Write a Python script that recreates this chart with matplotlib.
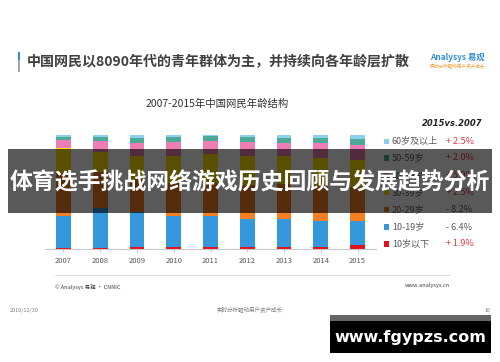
import matplotlib
matplotlib.use("Agg")
import matplotlib.pyplot as plt
from matplotlib.patches import Rectangle
import numpy as np

plt.rcParams['font.family'] = ['Noto Sans CJK SC', 'DejaVu Sans']

# ---------------- data ----------------
years = ['2007', '2008', '2009', '2010', '2011', '2012', '2013', '2014', '2015']
age_groups = ['10岁以下', '10-19岁', '20-29岁', '30-39岁', '40-49岁', '50-59岁', '60岁及以上']
under10 = [1.0, 0.6, 1.1, 1.1, 1.7, 1.7, 1.9, 1.7, 2.9]
age10_19 = [27.8, 35.2, 31.5, 27.3, 26.7, 24.0, 24.1, 22.8, 21.4]
age20_29 = [38.1, 31.5, 28.6, 29.8, 29.8, 30.4, 31.2, 31.5, 29.9]
age30_39 = [21.3, 17.6, 20.1, 23.4, 25.2, 25.3, 23.9, 23.8, 23.8]
age40_49 = [7.2, 10.0, 11.5, 12.6, 11.4, 12.4, 12.1, 12.9, 13.1]
age50_59 = [3.2, 3.6, 4.6, 3.9, 4.5, 4.4, 4.4, 4.7, 5.2]
age60 = [1.4, 1.5, 2.3, 1.9, 0.7, 1.9, 2.4, 2.4, 3.9]
changes = ['+ 1.9%', '- 6.4%', '- 8.2%', '+ 2.5%', '+ 5.9%', '+ 2.0%', '+ 2.5%']

series = [under10, age10_19, age20_29, age30_39, age40_49, age50_59, age60]
colors = ['#E3111B', '#3597DC', '#F57F22', '#FFE200', '#EF7DB5', '#4DAA96', '#8CCFEE']

W, H = 500, 362
fig = plt.figure(figsize=(W / 100, H / 100), dpi=100)


def fx(x):
    return x / W


def fy(y):
    return 1 - y / H


# ---------------- chart ----------------
ax = fig.add_axes([fx(45), fy(248.7), (376 - 45) / W, (248.7 - 135) / H])
x = np.arange(len(years))
bottom = np.zeros(len(years))
for vals, c in zip(series, colors):
    ax.bar(x, vals, bottom=bottom, width=0.4, color=c, edgecolor='none')
    bottom += np.array(vals)
ax.set_xlim(-0.5, len(years) - 0.5)
ax.set_ylim(0, 100)
ax.set_yticks([])
ax.set_xticks(x)
ax.set_xticklabels(years, fontsize=5.5, color='#595959')
ax.tick_params(axis='x', length=2, width=0.6, color='#BFBFBF', pad=4)
for s in ['top', 'right', 'left']:
    ax.spines[s].set_visible(False)
ax.spines['bottom'].set_color('#C8C8C8')
ax.spines['bottom'].set_linewidth(0.8)

# ---------------- legend ----------------
fig.text(fx(483), fy(124), '2015vs.2007', fontsize=6, fontweight='bold', fontstyle='italic',
         color='#222222', ha='right', va='center', family='DejaVu Sans')
row_y = [244, 227, 209.5, 192.5, 175.5, 158, 141.5]
for lab, c, ch, yy in zip(age_groups, colors, changes, row_y):
    fig.add_artist(Rectangle((fx(383.5), fy(yy + 2.7)), 5.4 / W, 5.4 / H,
                             transform=fig.transFigure, color=c, lw=0))
    fig.text(fx(392), fy(yy), lab, fontsize=6.5, color='#595959', ha='left', va='center')
    fig.text(fx(446), fy(yy), ch, fontsize=6.5,
             color='#E8383D' if ch.startswith('+') else '#595959', ha='left', va='center')

# ---------------- header ----------------
fig.add_artist(Rectangle((fx(17.5), fy(60)), 2.6 / W, 8 / H, transform=fig.transFigure,
                         color='#2D8FD5', lw=0))
fig.add_artist(Rectangle((fx(17.5), fy(72)), 2.6 / W, 12 / H, transform=fig.transFigure,
                         color='#A6A6A6', lw=0))
fig.text(fx(26.5), fy(62.5), '中国网民以8090年代的青年群体为主，并持续向各年龄层扩散',
         fontsize=10.1, fontweight='bold', color='#404040', ha='left', va='center')
fig.text(fx(485), fy(57), 'Analysys 易观', fontsize=6, color='#2D8FD5', fontweight='bold',
         ha='right', va='center')
fig.text(fx(485), fy(66), '实时分析驱动用户资产成长', fontsize=3.3, color='#F39C32',
         ha='right', va='center')
fig.text(fx(217.5), fy(103.5), '2007-2015年中国网民年龄结构', fontsize=7.5, color='#333333',
         ha='center', va='center')

# ---------------- footer ----------------
fig.add_artist(plt.Line2D([fx(55), fx(450)], [fy(275), fy(275)], transform=fig.transFigure,
                          color='#D9D9D9', lw=0.6))
fig.text(fx(55), fy(287), '© Analysys 易观 · CNNIC', fontsize=4, color='#404040',
         ha='left', va='center')
fig.text(fx(450), fy(286), 'www.analysys.cn', fontsize=4, color='#404040',
         ha='right', va='center')
fig.text(fx(10), fy(310.5), '2016/12/30', fontsize=4, color='#7F7F7F', ha='left', va='center')
fig.text(fx(250), fy(310.5), '实时分析驱动用户资产成长', fontsize=4, color='#7F7F7F',
         ha='center', va='center')
fig.text(fx(491), fy(310.5), '16', fontsize=4, color='#7F7F7F', ha='right', va='center')

# ---------------- overlay banner ----------------
fig.add_artist(Rectangle((fx(8), fy(213)), (492 - 8) / W, (213 - 149) / H,
                         transform=fig.transFigure, color='black', alpha=0.65, lw=0, zorder=10))
fig.text(fx(249.5), fy(183), '体育选手挑战网络游戏历史回顾与发展趋势分析', fontsize=16.5,
         fontweight='bold', color='white', ha='center', va='center', zorder=11)

# ---------------- watermark box ----------------
fig.add_artist(Rectangle((fx(330), fy(353)), (491 - 330) / W, (353 - 315) / H,
                         transform=fig.transFigure, color='black', lw=0, zorder=10))
fig.add_artist(Rectangle((fx(330), fy(321)), (491 - 330) / W, 6 / H,
                         transform=fig.transFigure, color='#666666', lw=0, zorder=10))
fig.text(fx(410.5), fy(337.5), 'www.fgypzs.com', fontsize=11.5, fontweight='bold',
         color='white', ha='center', va='center', family='DejaVu Sans', zorder=11)

fig.savefig('out.png', dpi=100)
